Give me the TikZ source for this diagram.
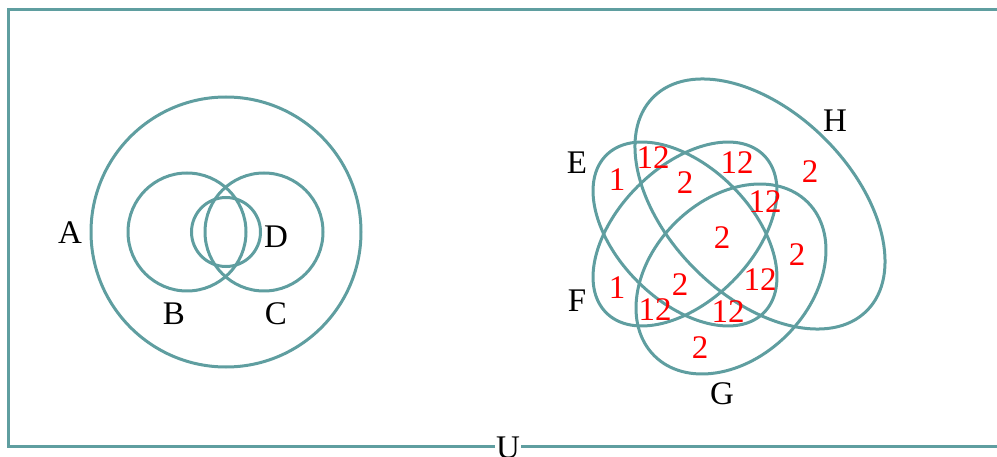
\documentclass[tikz,border=0pt]{standalone}
\usepackage{fontspec}
\setmainfont{Liberation Serif}
\usepackage{xcolor}
\usepackage{tikz}
\definecolor{venn}{HTML}{5F9EA0}

\begin{document}
\begin{tikzpicture}[x=1pt,y=-1pt,
  set/.style={draw=venn,line width=3pt},
  setname/.style={font=\fontsize{33}{35}\selectfont,inner sep=1pt},
  count/.style={text=red,font=\fontsize{33}{35}\selectfont,inner sep=0pt}]
\useasboundingbox (0,0) rectangle (997,457);
\clip (0,0) rectangle (997,457);
% universe
\draw[set] (8,10) rectangle (1012,446);
\node[setname,fill=white,inner sep=1.5pt] (U) at (508,448) {U};
% left diagram
\draw[set] (226,232) circle (135);
\draw[set] (187,232) circle (59);
\draw[set] (264,232) circle (59);
\draw[set] (226,232) circle (34.5);
\node[setname] (A) at (70,233) {A};
\node[setname] (B) at (174,314) {B};
\node[setname] (C) at (276,314) {C};
\node[setname] (D) at (276,237) {D};
% right diagram
\draw[set,shift={(760,204)},rotate=-45] (0,0) ellipse [x radius=151,y radius=92];
\draw[set,shift={(685,234)},rotate=-45] (0,0) ellipse [x radius=111.4,y radius=67.1];
\draw[set,shift={(685,234)},rotate=45] (0,0) ellipse [x radius=111.4,y radius=67.1];
\draw[set,shift={(731,279)},rotate=45] (0,0) ellipse [x radius=108.5,y radius=79.2];
\node[setname] (E) at (577,163) {E};
\node[setname] (F) at (577,301) {F};
\node[setname] (G) at (722,394) {G};
\node[setname] (H) at (835,121) {H};
% region counts
\node[count] (e) at (617,180) {1};
\node[count] (eh) at (653,158) {12};
\node[count] (efh) at (685,183) {2};
\node[count] (fh) at (737,163) {12};
\node[count] (h) at (810,172) {2};
\node[count] (fgh) at (765,202) {12};
\node[count] (efgh) at (722,238) {2};
\node[count] (gh) at (797,255) {2};
\node[count] (egh) at (760,280) {12};
\node[count] (efg) at (680,285) {2};
\node[count] (f) at (617,288) {1};
\node[count] (fg) at (655,310) {12};
\node[count] (eg) at (728,312) {12};
\node[count] (g) at (700,348) {2};
\end{tikzpicture}
\end{document}
